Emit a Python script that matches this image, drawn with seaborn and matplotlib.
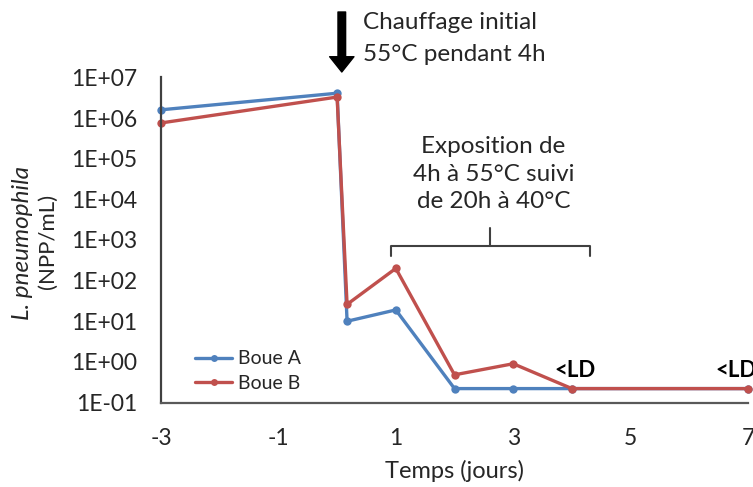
import numpy as np
import pandas as pd
import matplotlib
matplotlib.use("Agg")
import matplotlib.pyplot as plt
from matplotlib.lines import Line2D
import seaborn as sns

# Sampling days (0.17 = end of the 4 h initial heating)
jours = [-3, 0, 0.17, 1, 2, 3, 4, 7]
boue_a = [1.6e6, 4.1e6, 10, 19, 0.22, 0.22, 0.22, 0.22]
boue_b = [7.6e5, 3.3e6, 26, 200, 0.48, 0.9, 0.22, 0.22]
series = ["Boue A", "Boue B"]
couleurs = ["#4F81BD", "#C0504D"]
x_ticks = [-3, -1, 1, 3, 5, 7]
y_ticks = [1e-1, 1e0, 1e1, 1e2, 1e3, 1e4, 1e5, 1e6, 1e7]
y_tick_labels = ["1E-01", "1E+00", "1E+01", "1E+02", "1E+03", "1E+04", "1E+05", "1E+06", "1E+07"]

df = pd.DataFrame({
    "jour": jours * 2,
    "npp": boue_a + boue_b,
    "boue": [series[0]] * len(jours) + [series[1]] * len(jours),
})

sns.set_theme(style="white")
plt.rcParams["font.family"] = ["Lato", "DejaVu Sans"]
TXT = "#262626"

fig = plt.figure(figsize=(7.53, 4.87), dpi=100)
ax = fig.add_axes([0.2138, 0.1735, 0.7796, 0.6674])

sns.lineplot(data=df, x="jour", y="npp", hue="boue", hue_order=series,
             palette=couleurs, marker="o", markersize=6, markeredgewidth=0,
             linewidth=2.4, ax=ax, legend=False, clip_on=False)

ax.set_yscale("log")
ax.set_xlim(-3, 7)
ax.set_ylim(1e-1, 1e7)
ax.set_xticks(x_ticks)
ax.set_xticklabels([str(t) for t in x_ticks])
ax.set_yticks(y_ticks)
ax.set_yticklabels(y_tick_labels)
ax.minorticks_off()
ax.tick_params(axis="both", length=0, labelsize=16.5, colors=TXT)
ax.tick_params(axis="y", pad=17)
ax.tick_params(axis="x", pad=18)

for s in ["top", "right"]:
    ax.spines[s].set_visible(False)
ax.spines["left"].set_color("#404040")
ax.spines["bottom"].set_color("#595959")
ax.spines["left"].set_linewidth(1.6)
ax.spines["bottom"].set_linewidth(1.6)

ax.set_xlabel("Temps (jours)", fontsize=17, color=TXT, labelpad=8)
ax.set_ylabel("")

fig.text(23 / 753, 1 - 243 / 487, "L. pneumophila", rotation=90, style="italic",
         fontsize=17.5, color=TXT, ha="center", va="center")
fig.text(48 / 753, 1 - 241 / 487, "(NPP/mL)", rotation=90,
         fontsize=16, color=TXT, ha="center", va="center")

# Legend
handles = [Line2D([], [], color=c, lw=2.4, marker="o", markersize=5, markeredgewidth=0)
           for c in couleurs]
ax.legend(handles, series, loc="lower left", bbox_to_anchor=(0.058, 0.032),
          frameon=False, fontsize=14, handlelength=1.9, handletextpad=0.3,
          labelspacing=0.4, borderpad=0, borderaxespad=0, labelcolor=TXT)

# Detection-limit labels
ax.text(3.70, 0.6, "<LD", fontsize=16, fontweight="bold", color="black",
        ha="left", va="center", clip_on=False)
ax.text(6.44, 0.6, "<LD", fontsize=16, fontweight="bold", color="black",
        ha="left", va="center", clip_on=False)

# Initial heating arrow and caption
ax.annotate("", xy=(0.08, 1 - 72 / 487), xytext=(0.08, 1 - 12 / 487),
            xycoords=("data", "figure fraction"), textcoords=("data", "figure fraction"),
            arrowprops=dict(arrowstyle="simple,head_length=1.1,head_width=1.75,tail_width=0.55",
                            mutation_scale=10, color="black", shrinkA=0, shrinkB=0),
            annotation_clip=False)
fig.text(363 / 753, 1 - 38.5 / 487, "Chauffage initial\n55°C pendant 4h",
         fontsize=17.5, color=TXT, ha="left", va="center", linespacing=1.6)

# Exposure bracket and caption
bx0, bx1, bxm = 0.915, 4.30, 2.607
y_end, y_bar, y_top = 10 ** 2.617, 10 ** 2.864, 10 ** 3.284
ax.plot([bx0, bx0, bx1, bx1], [y_end, y_bar, y_bar, y_end], color="#404040",
        lw=1.5, clip_on=False, solid_joinstyle="round")
ax.plot([bxm, bxm], [y_bar, y_top], color="#404040", lw=1.5, clip_on=False)
ax.text(2.66, 10 ** (1 + (320.5 - 174) / 40.5), "Exposition de\n4h à 55°C suivi\nde 20h à 40°C",
        fontsize=17.5, color=TXT, ha="center", va="center", linespacing=1.38)

fig.savefig("out.png", dpi=100)
